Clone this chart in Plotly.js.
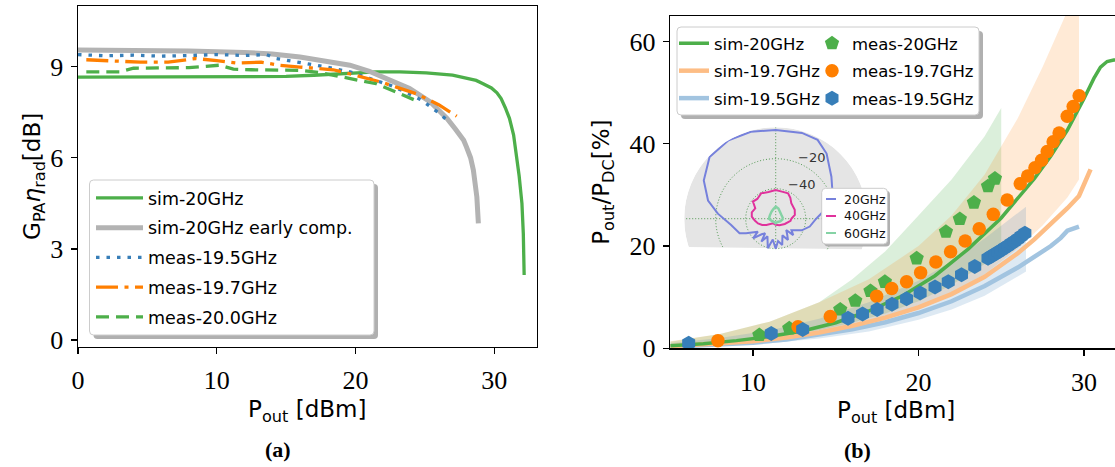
<!DOCTYPE html>
<html><head><meta charset="utf-8">
<script src="https://cdn.plot.ly/plotly-3.0.1.min.js"></script>
<style>html,body{margin:0;padding:0;overflow:hidden;background:#fff}#plot{width:1130px;height:467px}</style>
</head><body><div id="plot"></div>
<script>
// ---------- panel (a): G_PA * eta_rad vs Pout ----------
const a_sim20_x = [0, 5, 10, 15, 17, 19, 21.5, 23.2, 25.1, 27, 28.7, 29.2, 29.8, 30.2, 30.5, 30.8, 31.1, 31.4, 31.6, 31.8, 32.0, 32.1, 32.16];
const a_sim20_y = [8.66, 8.66, 8.66, 8.68, 8.72, 8.77, 8.83, 8.83, 8.8, 8.72, 8.55, 8.44, 8.3, 8.14, 7.95, 7.65, 7.3, 6.75, 6.14, 5.4, 4.5, 3.5, 2.14];
const a_early_x = [0, 4, 8, 12, 14, 16, 18, 19.6, 21, 22, 23, 23.9, 25.4, 26.6, 27.2, 27.8, 28.0, 28.3, 28.5, 28.75, 28.86];
const a_early_y = [9.55, 9.54, 9.52, 9.47, 9.42, 9.32, 9.18, 9.05, 8.85, 8.66, 8.48, 8.28, 7.84, 7.3, 6.95, 6.58, 6.36, 6.0, 5.59, 4.71, 3.84];
const a_m195_x = [0, 2, 4, 6, 8, 10, 12, 13.6, 14.3, 15.3, 16.5, 18, 19.6, 21, 22.5, 23.7, 24.8, 26.0, 26.6];
const a_m195_y = [9.4, 9.36, 9.38, 9.35, 9.37, 9.4, 9.37, 9.4, 9.27, 9.2, 9.1, 8.98, 8.83, 8.62, 8.39, 8.15, 7.89, 7.48, 7.24];
const a_m197_x = [0.6, 2.5, 4.5, 6.5, 7.5, 8.5, 10, 11.5, 13.2, 14.5, 16, 18.4, 20, 21.8, 23, 24.4, 26, 27.3];
const a_m197_y = [9.23, 9.2, 9.15, 9.15, 9.2, 9.27, 9.2, 9.12, 9.15, 9.05, 8.99, 8.9, 8.72, 8.5, 8.32, 8.11, 7.75, 7.37];
const a_m200_x = [0.6, 3, 4, 6, 8, 10.2, 11.2, 12.5, 14, 16, 17.5, 19.4, 21.5, 23, 24.6];
const a_m200_y = [8.83, 8.83, 8.95, 8.97, 8.97, 9.05, 8.92, 8.9, 8.9, 8.88, 8.8, 8.64, 8.44, 8.15, 7.84];
const a_names = ['sim-20GHz', 'sim-20GHz early comp.', 'meas-19.5GHz', 'meas-19.7GHz', 'meas-20.0GHz'];

// ---------- panel (b): efficiency vs Pout ----------
const b_sim20_x = [5, 7, 9, 11, 13, 15, 17, 19, 21, 23, 25, 26, 27, 28, 29, 30, 30.6, 31, 31.4, 31.8, 32.3];
const b_sim20_y = [0.5, 0.9, 1.5, 2.3, 3.4, 5.0, 7.3, 10.2, 14.2, 19.4, 25.5, 29.3, 33.2, 37.6, 42.7, 48.8, 52.8, 55.0, 56.1, 56.4, 56.4];
const b_sim197_x = [5, 8, 10, 12, 14, 16, 18, 20, 22, 24, 25, 26, 27, 28, 29, 29.7, 30.4];
const b_sim197_y = [0.4, 0.9, 1.4, 2.1, 3.1, 4.4, 6.0, 8.0, 10.6, 14.0, 16.2, 18.6, 21.3, 24.3, 27.4, 29.8, 35];
const b_sim195_x = [5, 8, 10, 12, 14, 16, 18, 20, 22, 24, 26, 27, 28, 28.6, 29.0, 29.7];
const b_sim195_y = [0.3, 0.7, 1.1, 1.7, 2.6, 3.7, 5.1, 6.9, 9.2, 12.2, 15.8, 17.9, 20.0, 21.6, 23.0, 23.8];
const b_sim_names = ['sim-20GHz', 'sim-19.7GHz', 'sim-19.5GHz'];

const band20_x = [5, 8, 11, 14, 16, 18, 20, 22, 24, 25];
const band20_hi = [1.3, 2.8, 5.2, 9, 13.5, 19, 26, 33, 41.5, 47];
const band20_lo = [0.4, 1.0, 2.0, 3.6, 5.0, 6.8, 9.2, 12.4, 16.5, 19];
const band197_x = [5, 8, 11, 14, 17, 20, 22, 24, 26, 27.5, 29, 29.7];
const band197_hi = [1.4, 2.8, 5.2, 9, 13.5, 20, 26, 34, 45, 55, 66, 72];
const band197_lo = [0.4, 0.8, 1.6, 3.0, 5.0, 8.0, 10.8, 14.5, 19.5, 24, 29.5, 33];
const band195_x = [5, 8, 11, 14, 17, 20, 22, 24, 26.5];
const band195_hi = [1.0, 2.0, 3.5, 5.8, 9.0, 13.2, 17.0, 21.5, 27.7];
const band195_lo = [0.2, 0.5, 1.0, 1.9, 3.3, 5.6, 7.6, 10.3, 15.0];

const m20_x = [10.38, 12.19, 15.27, 16.18, 17.1, 17.97, 19.89, 21.66, 22.5, 23.35, 24.2, 24.62];
const m20_y = [2.6, 3.9, 7.6, 9.3, 11.2, 13.0, 17.6, 22.8, 25.3, 28.5, 31.7, 33.2];
const m197_x = [7.88, 12.72, 14.67, 17.47, 18.38, 19.28, 20.13, 21.05, 21.94, 22.82, 23.67, 24.52, 25.36, 26.15, 26.6, 27.04, 27.44, 27.78, 28.14, 28.5, 28.99, 29.35, 29.71];
const m197_y = [1.5, 4.2, 6.2, 10.2, 11.7, 13.0, 14.8, 16.9, 18.9, 21.0, 23.4, 26.2, 29.0, 32.2, 33.7, 35.3, 36.8, 38.5, 40.4, 42.1, 45.4, 47.3, 49.4];
const m195_x = [6.11, 11.1, 13.0, 15.74, 16.62, 17.5, 18.4, 19.28, 20.1, 21.0, 21.8, 22.6, 23.4, 24.2, 24.4, 24.6, 24.8, 25.0, 25.2, 25.4, 25.6, 25.8, 26.0, 26.2, 26.43];
const m195_y = [0.98, 2.9, 3.7, 5.9, 6.7, 7.6, 8.6, 9.7, 10.8, 12.0, 13.0, 14.4, 16.0, 17.6, 18.0, 18.4, 18.8, 19.2, 19.6, 20.0, 20.5, 20.9, 21.4, 21.9, 22.5];
const b_meas_names = ['meas-20GHz', 'meas-19.7GHz', 'meas-19.5GHz'];

// ---------- inset: radiation patterns (dB) ----------
const p20_theta = [0, 10, 20, 28, 37, 52, 62, 73, 90, 106, 121, 137, 152, 165, 175, 188, 202, 206, 216, 221, 228, 234, 238, 245, 255, 262, 270, 276, 284, 292, 300, 306, 313, 317, 324, 336, 347, 360];
const p20_r = [-33, -27, -21, -17.3, -13.5, -4.9, -0.5, -0.2, -0.9, 0.3, 1, 0.3, -5.7, -13.3, -21.3, -30, -34, -38, -45.3, -40, -46, -48, -42, -47, -39.6, -46, -40, -45, -42, -48, -43.6, -47, -49.7, -44, -47, -41, -36.7, -33];
const p40_theta = [0, 11, 25, 45, 55, 64, 75, 90, 105, 120, 133, 143, 153, 165, 175, 185, 195, 205, 214, 240, 270, 300, 330, 352, 360];
const p40_r = [-49.6, -47, -46, -45.3, -43, -41.2, -41.5, -40.9, -41.5, -40.5, -42, -41, -44.7, -43.5, -44, -46, -47.8, -50, -52.5, -56.5, -56, -55, -53, -50, -49.6];
const p60_theta = [0, 30, 60, 75, 85, 90, 95, 105, 120, 150, 180, 210, 240, 270, 300, 330, 360];
const p60_r = [-55, -55.5, -54.5, -53, -52.4, -52, -52.6, -53.5, -54.5, -55.5, -55.5, -57, -57.5, -57, -57.5, -56.5, -55];
const inset_names = ['20GHz', '40GHz', '60GHz'];
const inset_ticks = ['\u221220', '\u221240'];

// ---------- colours ----------
const GREEN = '#4daf4a', ORANGE = '#ff7f00', BLUE = '#377eb8', GRAY = '#b3b3b3';
const W = 1130, H = 467;
const PX = v => v / W, PY = v => 1 - v / H;

const traces = [];
// panel (a)
traces.push({x: a_sim20_x, y: a_sim20_y, name: a_names[0], mode: 'lines', line: {color: GREEN, width: 3.3}, xaxis: 'x', yaxis: 'y', legend: 'legend3', legendgroup: 'a1', legendrank: 1});
traces.push({x: a_early_x, y: a_early_y, name: a_names[1], mode: 'lines', line: {color: GRAY, width: 5}, xaxis: 'x', yaxis: 'y', legend: 'legend3', legendgroup: 'a2', legendrank: 2});
traces.push({x: a_m195_x, y: a_m195_y, name: a_names[2], mode: 'lines', line: {color: BLUE, width: 3.3, dash: '3.5px,7px'}, xaxis: 'x', yaxis: 'y', legend: 'legend3', legendgroup: 'a3', legendrank: 3});
traces.push({x: a_m197_x, y: a_m197_y, name: a_names[3], mode: 'lines', line: {color: ORANGE, width: 3.3, dash: '22px,6.5px,4px,6.5px'}, xaxis: 'x', yaxis: 'y', legend: 'legend3', legendgroup: 'a4', legendrank: 4});
traces.push({x: a_m200_x, y: a_m200_y, name: a_names[4], mode: 'lines', line: {color: GREEN, width: 3.3, dash: '13px,7px'}, xaxis: 'x', yaxis: 'y', legend: 'legend3', legendgroup: 'a5', legendrank: 5});

// panel (b) bands
function band(x, lo, hi, color) {
  return {x: x.concat(x.slice().reverse()), y: hi.concat(lo.slice().reverse()), mode: 'lines', fill: 'toself',
          fillcolor: color, line: {width: 0}, xaxis: 'x2', yaxis: 'y2', showlegend: false, hoverinfo: 'skip'};
}
traces.push(band(band20_x, band20_lo, band20_hi, 'rgba(77,175,74,0.2)'));
traces.push(band(band197_x, band197_lo, band197_hi, 'rgba(255,127,0,0.16)'));
traces.push(band(band195_x, band195_lo, band195_hi, 'rgba(55,126,184,0.17)'));
// sim lines
traces.push({x: b_sim195_x, y: b_sim195_y, name: b_sim_names[2], mode: 'lines', line: {color: '#a2c4e0', width: 4.5}, xaxis: 'x2', yaxis: 'y2', legend: 'legend', legendgroup: 'b3', legendrank: 3});
traces.push({x: b_sim197_x, y: b_sim197_y, name: b_sim_names[1], mode: 'lines', line: {color: '#fdbd85', width: 4.5}, xaxis: 'x2', yaxis: 'y2', legend: 'legend', legendgroup: 'b2', legendrank: 2});
traces.push({x: b_sim20_x, y: b_sim20_y, name: b_sim_names[0], mode: 'lines', line: {color: GREEN, width: 3.5}, xaxis: 'x2', yaxis: 'y2', legend: 'legend', legendgroup: 'b1', legendrank: 1});
// measured markers
traces.push({x: m20_x, y: m20_y, name: b_meas_names[0], mode: 'markers', marker: {symbol: 'pentagon', size: 15, color: GREEN}, xaxis: 'x2', yaxis: 'y2', legend: 'legend2', legendgroup: 'c1', legendrank: 1});
traces.push({x: m197_x, y: m197_y, name: b_meas_names[1], mode: 'markers', marker: {symbol: 'circle', size: 13.5, color: ORANGE}, xaxis: 'x2', yaxis: 'y2', legend: 'legend2', legendgroup: 'c2', legendrank: 2});
traces.push({x: m195_x, y: m195_y, name: b_meas_names[2], mode: 'markers', marker: {symbol: 'hexagon', size: 15, color: BLUE}, xaxis: 'x2', yaxis: 'y2', legend: 'legend2', legendgroup: 'c3', legendrank: 3});

// inset polar background (disk cut by a horizontal chord) and dotted grid
const R_MAX = 1, R_MIN = -60, PXPERDB = 1.5, CHORD = 30.5;
const chordAng = Math.asin(CHORD / ((R_MAX - R_MIN) * PXPERDB)) * 180 / Math.PI;
const diskT = [], diskR = [];
for (let t = -chordAng; t <= 180 + chordAng + 0.01; t += 1.5) { diskT.push(t); diskR.push(R_MAX); }
traces.push({type: 'scatterpolar', subplot: 'polar', theta: diskT, r: diskR, mode: 'lines', fill: 'toself', fillcolor: '#e5e5e5', line: {width: 0}, showlegend: false, hoverinfo: 'skip'});
const gridStyle = {color: 'rgba(60,140,60,0.85)', width: 1, dash: '1px,2px'};
const c40T = [], c40R = [];
for (let t = 0; t <= 360; t += 3) { c40T.push(t); c40R.push(-40); }
traces.push({type: 'scatterpolar', subplot: 'polar', theta: c40T, r: c40R, mode: 'lines', line: gridStyle, showlegend: false, hoverinfo: 'skip'});
const a20 = Math.asin(CHORD / ((-20 - R_MIN) * PXPERDB)) * 180 / Math.PI;
const c20T = [], c20R = [];
for (let t = -a20; t <= 180 + a20 + 0.01; t += 2) { c20T.push(t); c20R.push(-20); }
traces.push({type: 'scatterpolar', subplot: 'polar', theta: c20T, r: c20R, mode: 'lines', line: gridStyle, showlegend: false, hoverinfo: 'skip'});
traces.push({type: 'scatterpolar', subplot: 'polar', theta: [0, 0, 180], r: [R_MAX, R_MIN, R_MAX], mode: 'lines', line: gridStyle, showlegend: false, hoverinfo: 'skip'});
traces.push({type: 'scatterpolar', subplot: 'polar', theta: [90, 90, 270], r: [R_MAX, R_MIN, R_MIN + CHORD / PXPERDB], mode: 'lines', line: gridStyle, showlegend: false, hoverinfo: 'skip'});
// patterns
const insetColors = ['#7681dc', '#e0329c', '#85d3a5'];
traces.push({type: 'scatterpolar', subplot: 'polar', theta: p20_theta, r: p20_r, mode: 'lines', line: {color: insetColors[0], width: 2}, showlegend: false});
traces.push({type: 'scatterpolar', subplot: 'polar', theta: p40_theta, r: p40_r, mode: 'lines', line: {color: insetColors[1], width: 2}, showlegend: false});
traces.push({type: 'scatterpolar', subplot: 'polar', theta: p60_theta, r: p60_r, mode: 'lines', line: {color: insetColors[2], width: 2.5}, showlegend: false});

// ---------- frames (legend boxes) ----------
function rrect(x0, y0, x1, y1, r) {
  const P = (x, y) => PX(x) + ',' + PY(y);
  return 'M' + P(x0 + r, y0) + ' L' + P(x1 - r, y0) + ' Q' + P(x1, y0) + ' ' + P(x1, y0 + r) +
         ' L' + P(x1, y1 - r) + ' Q' + P(x1, y1) + ' ' + P(x1 - r, y1) +
         ' L' + P(x0 + r, y1) + ' Q' + P(x0, y1) + ' ' + P(x0, y1 - r) +
         ' L' + P(x0, y0 + r) + ' Q' + P(x0, y0) + ' ' + P(x0 + r, y0) + ' Z';
}
function framed(x0, y0, x1, y1, off) {
  return [
    {type: 'path', xref: 'paper', yref: 'paper', path: rrect(x0 + off, y0 + off, x1 + off, y1 + off, 4), fillcolor: '#b0b0b0', line: {width: 0}, layer: 'above'},
    {type: 'path', xref: 'paper', yref: 'paper', path: rrect(x0, y0, x1, y1, 4), fillcolor: '#ffffff', line: {color: '#cccccc', width: 1}, layer: 'above'}
  ];
}
let shapes = [];
shapes = shapes.concat(framed(89.5, 180, 374, 335, 4));
shapes = shapes.concat(framed(677, 27, 979, 115, 4));
shapes = shapes.concat(framed(821.7, 188.3, 887.5, 244, 2.5));
// inset legend line samples
const insetRows = [199, 216, 233];
insetRows.forEach((yy, i) => shapes.push({type: 'line', xref: 'paper', yref: 'paper', x0: PX(826), x1: PX(836), y0: PY(yy), y1: PY(yy), line: {color: insetColors[i], width: 2}, layer: 'above'}));

const annotations = [];
insetRows.forEach((yy, i) => annotations.push({xref: 'paper', yref: 'paper', x: PX(842), y: PY(yy), xanchor: 'left', yanchor: 'middle', text: inset_names[i], showarrow: false, font: {family: 'DejaVu Sans', size: 12.5, color: '#111'}}));
annotations.push({xref: 'paper', yref: 'paper', x: PX(811.5), y: PY(157), xanchor: 'center', yanchor: 'middle', text: inset_ticks[0], showarrow: false, font: {family: 'DejaVu Sans', size: 13, color: '#333'}});
annotations.push({xref: 'paper', yref: 'paper', x: PX(801.5), y: PY(184), xanchor: 'center', yanchor: 'middle', text: inset_ticks[1], showarrow: false, font: {family: 'DejaVu Sans', size: 13, color: '#333'}});
annotations.push({xref: 'paper', yref: 'paper', x: PX(278), y: PY(449), xanchor: 'center', yanchor: 'middle', text: '<b>(a)</b>', showarrow: false, font: {family: 'Liberation Serif', size: 22, color: '#000'}});
annotations.push({xref: 'paper', yref: 'paper', x: PX(857.5), y: PY(450), xanchor: 'center', yanchor: 'middle', text: '<b>(b)</b>', showarrow: false, font: {family: 'Liberation Serif', size: 22, color: '#000'}});

const tickFont = {family: 'Liberation Serif', size: 26, color: '#000'};
const titleFont = {family: 'DejaVu Sans', size: 23, color: '#000'};
const axCommon = {showline: true, mirror: true, linecolor: '#000', linewidth: 1.5, ticks: 'outside', ticklen: 6, tickwidth: 1.3, tickcolor: '#000',
                  showgrid: false, zeroline: false, tickfont: tickFont};
const legCommon = {bgcolor: 'rgba(0,0,0,0)', borderwidth: 0, xanchor: 'left', yanchor: 'top', traceorder: 'grouped', orientation: 'v'};

const layout = {
  width: W, height: H, margin: {l: 0, r: 0, t: 0, b: 0}, paper_bgcolor: '#fff', plot_bgcolor: '#fff', showlegend: true,
  xaxis: Object.assign({}, axCommon, {domain: [PX(78), PX(536.5)], range: [0, 33.05], tickvals: [0, 10, 20, 30], anchor: 'y', ticklabelstandoff: 4,
          title: {text: 'P<sub>out</sub> [dBm]', font: titleFont, standoff: 6}}),
  yaxis: Object.assign({}, axCommon, {domain: [PY(346.7), PY(6)], range: [-0.22, 11], tickvals: [0, 3, 6, 9], anchor: 'x', ticklabelstandoff: 2,
          title: {text: 'G<sub>PA</sub><i>η</i><sub>rad</sub>[dB]', font: titleFont, standoff: 3}}),
  xaxis2: Object.assign({}, axCommon, {domain: [PX(670.3), PX(1122)], range: [5, 32.3], tickvals: [10, 20, 30], anchor: 'y2', ticklabelstandoff: 4,
          title: {text: 'P<sub>out</sub> [dBm]', font: titleFont, standoff: 6}}),
  yaxis2: Object.assign({}, axCommon, {domain: [PY(348.3), PY(16)], range: [0, 65], tickvals: [0, 20, 40, 60], anchor: 'x2', ticklabelstandoff: 2,
          title: {text: 'P<sub>out</sub>/P<sub>DC</sub>[%]', font: titleFont, standoff: 13}}),
  polar: {domain: {x: [PX(684.2), PX(867.2)], y: [PY(310.2), PY(127.2)]}, bgcolor: 'rgba(0,0,0,0)',
          radialaxis: {visible: false, range: [R_MIN, R_MAX]}, angularaxis: {visible: false}},
  legend: Object.assign({}, legCommon, {x: PX(674), y: PY(26), itemwidth: 30, tracegroupgap: 3, font: {family: 'DejaVu Sans', size: 16.5, color: '#000'}}),
  legend2: Object.assign({}, legCommon, {x: PX(812), y: PY(26), itemwidth: 30, tracegroupgap: 3, font: {family: 'DejaVu Sans', size: 16.5, color: '#000'}}),
  legend3: Object.assign({}, legCommon, {x: PX(91), y: PY(180), itemwidth: 47, tracegroupgap: 4, font: {family: 'DejaVu Sans', size: 17.5, color: '#000'}}),
  shapes: shapes, annotations: annotations
};
Plotly.newPlot('plot', traces, layout, {staticPlot: true, displayModeBar: false});
</script></body></html>
